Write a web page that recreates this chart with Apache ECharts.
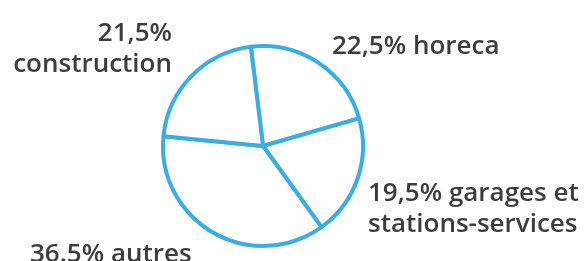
<!DOCTYPE html>
<html>
<head>
<meta charset="utf-8">
<script src="https://cdn.jsdelivr.net/npm/echarts@6/dist/echarts.min.js"></script>
<style>
  html, body { margin: 0; padding: 0; background: #fff; }
  #chart { width: 585px; height: 261px; }
</style>
</head>
<body>
<div id="chart"></div>
<script>
// parts, clockwise from top
var categories = ['horeca', 'garages et stations-services', 'autres', 'construction'];
var values = [22.5, 19.5, 36.5, 21.5];
var labelTexts = ['22,5% horeca', '19,5% garages et\nstations-services', '36.5% autres', '21,5%\nconstruction'];

// where each label sits
var labelSpots = [
  { x: 332, y: 47, align: 'left' },
  { x: 368, y: 209, align: 'left' },
  { x: 30, y: 255, align: 'left' },
  { x: 172, y: 49, align: 'right' }
];

var chart = echarts.init(document.getElementById('chart'));

var pieData = categories.map(function (name, i) {
  return { name: name, value: values[i] };
});

var option = {
  animation: false,
  series: [{
    type: 'pie',
    center: [263, 146],
    radius: 100,
    startAngle: 97,
    clockwise: true,
    data: pieData,
    itemStyle: {
      color: '#fff',
      borderColor: '#3aade2',
      borderWidth: 4
    },
    emphasis: { disabled: true },
    label: {
      show: true,
      position: 'outside',
      formatter: function (p) {
        return labelTexts[p.dataIndex];
      },
      overflow: 'none',
      fontFamily: 'Open Sans',
      fontWeight: 600,
      fontSize: 26,
      lineHeight: 31,
      color: '#3d3d3d'
    },
    labelLine: { show: false },
    labelLayout: function (params) {
      var s = labelSpots[params.dataIndex];
      return { x: s.x, y: s.y, align: s.align, verticalAlign: 'middle' };
    }
  }]
};

chart.setOption(option);
</script>
</body>
</html>
